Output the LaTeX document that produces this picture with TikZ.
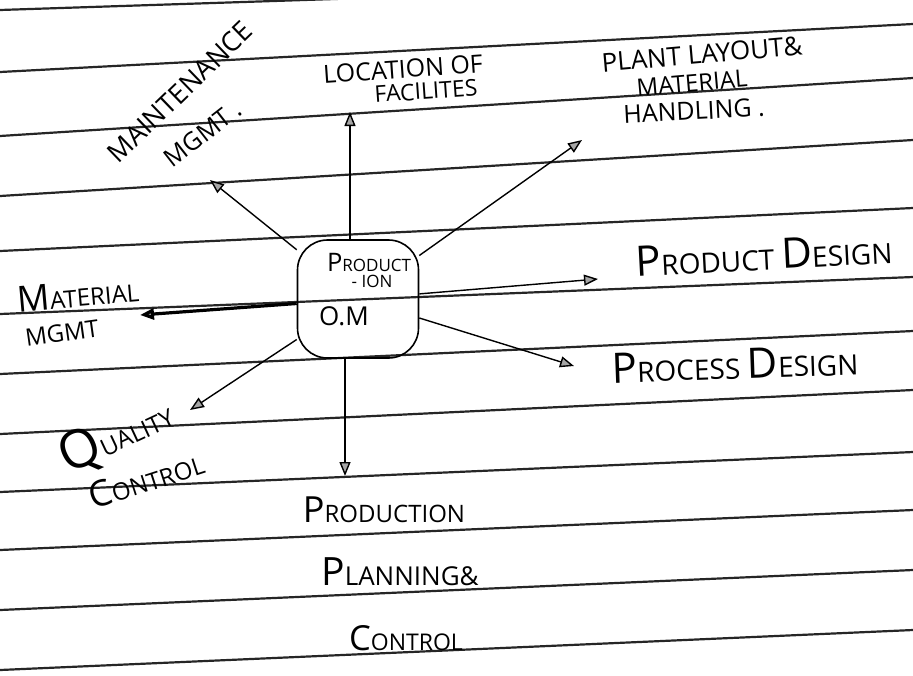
\documentclass[tikz,border=0pt]{standalone}
\usepackage{fontspec}
\setmainfont{Open Sans}
\usepackage{graphicx}
\usetikzlibrary{arrows.meta}
\usetikzlibrary{positioning}
\tikzstyle{hw}=[inner sep=0pt, font=\fontsize{12}{13}\selectfont]
\tikzstyle{arr}=[-{Triangle[length=7pt,width=5.5pt,fill=black!35]}, line width=0.7pt]
\tikzstyle{rule}=[line width=1.1pt, black!85]
\newcommand\hcap[1]{\scalebox{1.5}{#1}}

\begin{document}
\begin{tikzpicture}[x=0.5pt, y=-0.5pt]
    \useasboundingbox (0,0) rectangle (913,675);
    % ruled lines of the page
    \foreach \l/\r in {10/-20, 72/24, 136/78, 196/140, 251/208, 314/277, 374/331, 434/390, 492/452, 550/510, 610/570, 670/630}
        \draw [rule] (0,\l) -- (913,\r);

    \node [rectangle, rounded corners=15pt, draw, line width=0.8pt, minimum width=60.5pt, minimum height=59pt] (om) at (358,299) {};
    \node [hw, font=\fontsize{8.5}{9}\selectfont] (prod) at (369,262) {\hcap{P}RODUCT};
    \node [hw, font=\fontsize{8.5}{9}\selectfont] (ion)  at (372,281) {- ION};
    \node [hw, font=\fontsize{13}{14}\selectfont] (omt)  at (344,316) {O.M};

    \coordinate (tLoc) at (350,112);
    \coordinate (tMnt) at (210,180);
    \coordinate (tPla) at (582,140);
    \coordinate (tPrd) at (598,279);
    \coordinate (tPrc) at (574,366);
    \coordinate (tPpc) at (345,476);
    \coordinate (tQc)  at (190,410);
    \coordinate (tMat) at (140,315);

    \path [arr] (om.north -| tLoc) edge (tLoc)
                (om) edge (tMnt)
                     edge (tPla)
                     edge (tPrd)
                     edge (tPrc)
                     edge (tQc)
                (om.south -| tPpc) edge (tPpc);
    \path [arr, line width=1.6pt] (om) edge (tMat);

    \node [hw, rotate=44, font=\fontsize{13.5}{15}\selectfont] (mnt) at (180,92) {MAINTENANCE};
    \node [hw, rotate=38, font=\fontsize{12.5}{14}\selectfont] (mgm) at (203,134) {MGMT .};
    \node [hw, rotate=4, font=\fontsize{12.5}{14}\selectfont] (loc) at (403,69) {LOCATION OF};
    \node [hw, rotate=4, font=\fontsize{11.5}{13}\selectfont] (fac) at (426,91) {FACILITES};
    \node [hw, rotate=5, font=\fontsize{13}{14}\selectfont] (pla) at (702,54) {PLANT LAYOUT\&};
    \node [hw, rotate=5, font=\fontsize{12}{13}\selectfont] (mtl) at (692,83) {MATERIAL};
    \node [hw, rotate=3, font=\fontsize{12.5}{13}\selectfont] (hdl) at (694,111) {HANDLING .};
    \node [hw, rotate=3, font=\fontsize{14}{15}\selectfont] (pdd) at (764,255) {\hcap{P}RODUCT \hcap{D}ESIGN};
    \node [hw, rotate=2, font=\fontsize{14}{15}\selectfont] (psd) at (735,364) {\hcap{P}ROCESS \hcap{D}ESIGN};
    \node [hw] (ppc) at (384,510) {\hcap{P}RODUCTION};
    \node [hw, font=\fontsize{13}{14}\selectfont] (pln) at (400,572) {\hcap{P}LANNING\&};
    \node [hw, font=\fontsize{11.5}{12}\selectfont] (ctl) at (406,638) {\hcap{C}ONTROL};
    \node [hw, rotate=25] (qua) at (116,436) {\scalebox{2.2}{Q}UALITY};
    \node [hw, rotate=18] (qct) at (146,479) {\hcap{C}ONTROL};
    \node [hw, rotate=5] (mat) at (78,294) {\hcap{M}ATERIAL};
    \node [hw, rotate=8] (mmg) at (62,333) {MGMT};
\end{tikzpicture}
\end{document}
